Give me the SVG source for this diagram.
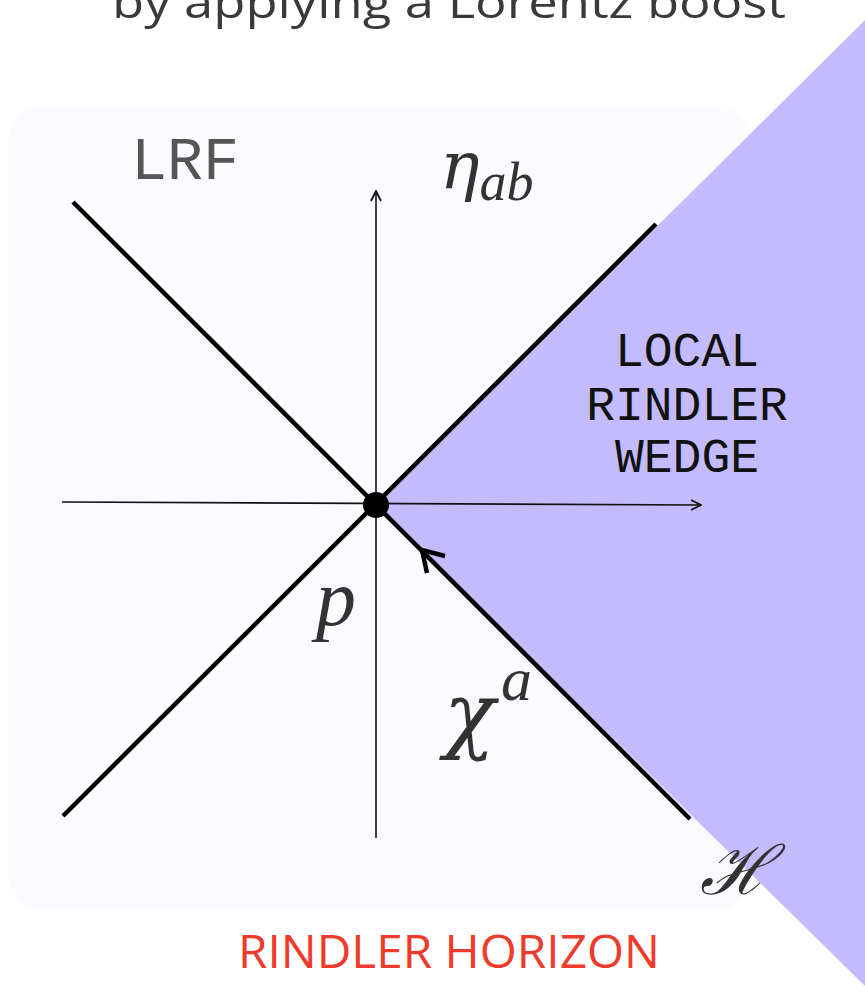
<svg xmlns="http://www.w3.org/2000/svg" width="865" height="996" viewBox="0 0 865 996">
<defs>
<style>
.diag{stroke:#000;stroke-width:4.5;fill:none;stroke-linecap:butt}
.axis{stroke:#111;stroke-width:1.6;fill:none}
.mono{font-family:"Liberation Mono","Courier New",monospace}
.math{font-family:"Liberation Serif","Times New Roman",serif;font-style:italic;fill:#333}
.greek{font-family:"DejaVu Serif","Liberation Serif",serif;font-style:italic;fill:#333}
</style>
<marker id="arr" viewBox="0 0 12 12" refX="11" refY="6" markerWidth="12" markerHeight="12" markerUnits="userSpaceOnUse" orient="auto">
<path d="M1,1 L11,6 L1,11" fill="none" stroke="#111" stroke-width="1.8"/>
</marker>
</defs>
<rect width="865" height="996" fill="#ffffff"/>
<text x="112" y="18" font-family="'Open Sans','Noto Sans',sans-serif" font-size="44" fill="#3a3a3a" textLength="674" lengthAdjust="spacingAndGlyphs">by applying a Lorentz boost</text>
<g id="lrf-frame">
<rect x="8" y="107" width="742" height="803" rx="34" ry="34" fill="#fbfaff"/>
<text class="mono" x="131" y="179" font-size="61" fill="#555" textLength="108" lengthAdjust="spacingAndGlyphs">LRF</text>
</g>
<g id="rindler-wedge">
<polygon points="376,505 865,20 865,986" fill="#c4bbfc"/>
<text class="mono" font-size="48" fill="#111" text-anchor="middle"><tspan x="687" y="366">LOCAL</tspan><tspan x="687" y="420">RINDLER</tspan><tspan x="687" y="472">WEDGE</tspan></text>
</g>
<g id="connectors">
<line class="axis" x1="376" y1="838" x2="376" y2="191" marker-end="url(#arr)"/>
<line class="axis" x1="62" y1="502" x2="701" y2="505" marker-end="url(#arr)"/>
<line class="diag" x1="73" y1="202" x2="690" y2="819"/>
<line class="diag" x1="63" y1="816" x2="656" y2="224"/>
<path d="M445,556 L422,550 L427,573" fill="none" stroke="#000" stroke-width="4.5"/>
</g>
<g id="point-p">
<circle cx="376" cy="505" r="13" fill="#000"/>
<text class="math" x="316" y="625" font-size="80">p</text>
</g>
<g id="metric">
<text x="440" y="188"><tspan class="greek" font-size="66">η</tspan><tspan class="math" font-size="54" dy="12">ab</tspan></text>
</g>
<g id="killing-vector">
<text x="444" y="742"><tspan class="greek" font-size="84">χ</tspan><tspan class="math" font-size="62" dx="6" dy="-42">a</tspan></text>
</g>
<g id="horizon">
<text x="700" y="894" font-family="'DejaVu Serif',serif" font-style="italic" font-size="68" fill="#333">ℋ</text>
<text x="449" y="968" font-family="'Open Sans','Noto Sans',sans-serif" font-size="46" fill="#ef3b2c" text-anchor="middle" textLength="422" lengthAdjust="spacingAndGlyphs">RINDLER HORIZON</text>
</g>
</svg>
